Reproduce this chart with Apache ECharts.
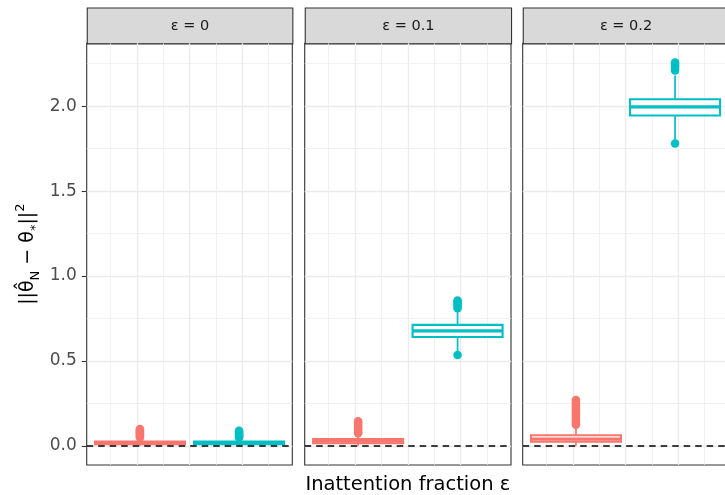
<!DOCTYPE html>
<html><head><meta charset="utf-8">
<script src="https://cdn.jsdelivr.net/npm/echarts@6/dist/echarts.min.js"></script>
<style>html,body{margin:0;padding:0;background:#fff}#c{width:725px;height:495px}</style>
</head><body><div id="c"></div>
<script>
// ---- data ----
const panelLabels = ['ε = 0', 'ε = 0.1', 'ε = 0.2'];
const groupColors = ['#F8766D', '#00BFC4'];
const boxX = [1.06, 2.94];           // x position of the two boxes inside each panel
// [min, Q1, median, Q3, max] per panel
const redBox  = [[0.002, 0.010, 0.018, 0.026, 0.045],
                 [0.002, 0.016, 0.028, 0.041, 0.065],
                 [0.002, 0.025, 0.040, 0.063, 0.115]];
const cyanBox = [[0.002, 0.010, 0.018, 0.026, 0.045],
                 [0.550, 0.641, 0.678, 0.713, 0.800],
                 [1.800, 1.945, 1.996, 2.041, 2.180]];
const redOut  = [[0.05, 0.055, 0.06, 0.065, 0.07, 0.075, 0.08, 0.085, 0.09, 0.095, 0.10],
                 [0.075, 0.08, 0.09, 0.10, 0.11, 0.12, 0.13, 0.14, 0.145],
                 [0.125, 0.13, 0.14, 0.15, 0.16, 0.17, 0.18, 0.19, 0.20, 0.21, 0.22, 0.23, 0.24, 0.25, 0.26, 0.27]];
const cyanOut = [[0.05, 0.055, 0.06, 0.065, 0.07, 0.075, 0.08, 0.085, 0.09],
                 [0.535, 0.81, 0.82, 0.83, 0.84, 0.85, 0.856],
                 [1.78, 2.21, 2.22, 2.23, 2.24, 2.25, 2.257]];
const yTicks = [0, 0.5, 1.0, 1.5, 2.0];
const yMinor = [0.25, 0.75, 1.25, 1.75, 2.25];
const xMajor = [1, 2, 3];
const xMinor = [0.5, 1.5, 2.5, 3.5];

// ---- layout ----
const panelLeft = [86.7, 304.7, 522.7];
const panelWidth = [205.6, 206.3, 205.6];
const plotTop = 43.3, plotHeight = 421.7, stripTop = 7.5;
const FONT = '"DejaVu Sans", Verdana, sans-serif';

const chart = echarts.init(document.getElementById('c'), null, {renderer: 'canvas'});

function renderBox(params, api) {
  const x = api.value(0);
  const lo = api.coord([x, api.value(1)]);
  const q1 = api.coord([x, api.value(2)]);
  const md = api.coord([x, api.value(3)]);
  const q3 = api.coord([x, api.value(4)]);
  const hi = api.coord([x, api.value(5)]);
  const color = api.visual('color');
  const hw = 45;
  return {type: 'group', children: [
    {type: 'line', shape: {x1: lo[0], y1: lo[1], x2: q1[0], y2: q1[1]}, style: {stroke: color, lineWidth: 1.7}},
    {type: 'line', shape: {x1: q3[0], y1: q3[1], x2: hi[0], y2: hi[1]}, style: {stroke: color, lineWidth: 1.7}},
    {type: 'rect', shape: {x: q3[0] - hw, y: q3[1], width: 2 * hw, height: q1[1] - q3[1]}, style: {fill: '#fff', stroke: color, lineWidth: 2.1}},
    {type: 'line', shape: {x1: md[0] - hw, y1: md[1], x2: md[0] + hw, y2: md[1]}, style: {stroke: color, lineWidth: 3.2}}
  ]};
}

const grids = [], xAxes = [], yAxes = [], series = [], graphics = [];
panelLabels.forEach((lab, i) => {
  grids.push({left: panelLeft[i], top: plotTop, width: panelWidth[i], height: plotHeight,
    show: true, borderColor: '#333', borderWidth: 1.1, backgroundColor: '#fff',
    containLabel: false, outerBoundsMode: 'none'});
  const xMaj = {gridIndex: i, type: 'value', min: 0.05, max: 3.95, position: 'bottom',
    axisLine: {show: false}, axisTick: {show: false, customValues: xMajor}, axisLabel: {show: false, customValues: xMajor},
    splitLine: {show: true, lineStyle: {color: '#ebebeb', width: 1.3}}};
  if (i === 1) {
    xMaj.name = 'Inattention fraction ε';
    xMaj.nameLocation = 'middle';
    xMaj.nameGap = 10;
    xMaj.nameTextStyle = {fontSize: 19.5, color: '#000', fontFamily: FONT, verticalAlign: 'top'};
  }
  xAxes.push(xMaj);
  xAxes.push({gridIndex: i, type: 'value', min: 0.05, max: 3.95, position: 'top',
    axisLine: {show: false}, axisTick: {show: false, customValues: xMinor}, axisLabel: {show: false, customValues: xMinor},
    splitLine: {show: true, lineStyle: {color: '#ebebeb', width: 0.7}}});
  const yMaj = {gridIndex: i, type: 'value', min: -0.112, max: 2.37, position: 'left',
    axisLine: {show: false},
    axisTick: {show: i === 0, customValues: yTicks, length: 5, lineStyle: {color: '#333', width: 1.1}},
    axisLabel: {show: i === 0, customValues: yTicks, formatter: v => v.toFixed(1), color: '#4d4d4d',
      fontSize: 17, fontFamily: FONT, margin: 10},
    splitLine: {show: true, lineStyle: {color: '#ebebeb', width: 1.3}}};
  if (i === 0) {
    yMaj.name = '{a|||}{a|θ\u0302}{s|N}{a| \u2212 θ}{s|*}{a|||}{p|2}';
    yMaj.nameLocation = 'middle';
    yMaj.nameRotate = 90;
    yMaj.nameGap = 45;
    yMaj.nameTextStyle = {rich: {
      a: {fontSize: 19, color: '#000', fontFamily: FONT, lineHeight: 28},
      s: {fontSize: 13, color: '#000', fontFamily: FONT, lineHeight: 13, verticalAlign: 'bottom'},
      p: {fontSize: 13, color: '#000', fontFamily: FONT, lineHeight: 13, verticalAlign: 'top'}
    }};
  }
  yAxes.push(yMaj);
  yAxes.push({gridIndex: i, type: 'value', min: -0.112, max: 2.37, position: 'right',
    axisLine: {show: false}, axisTick: {show: false, customValues: yMinor}, axisLabel: {show: false, customValues: yMinor},
    splitLine: {show: true, lineStyle: {color: '#ebebeb', width: 0.7}}});

  const boxes = [redBox[i], cyanBox[i]];
  const outs = [redOut[i], cyanOut[i]];
  [0, 1].forEach(g => {
    series.push({type: 'custom', xAxisIndex: 2 * i, yAxisIndex: 2 * i, renderItem: renderBox,
      itemStyle: {color: groupColors[g]}, z: 3, silent: true,
      data: [[boxX[g]].concat(boxes[g])]});
    const sc = {type: 'scatter', xAxisIndex: 2 * i, yAxisIndex: 2 * i, symbol: 'circle', symbolSize: 8.5,
      itemStyle: {color: groupColors[g], opacity: 1}, z: 4, silent: true,
      data: outs[g].map(v => [boxX[g], v])};
    if (g === 1) {
      sc.markLine = {symbol: 'none', silent: true, z: 5, label: {show: false},
        lineStyle: {color: '#000', type: [6.5, 5], width: 1.6}, data: [{yAxis: 0}]};
    }
    series.push(sc);
  });

  graphics.push({type: 'group', left: panelLeft[i], top: stripTop, children: [
    {type: 'rect', shape: {x: 0, y: 0, width: panelWidth[i], height: plotTop - stripTop},
      style: {fill: '#d9d9d9', stroke: '#333', lineWidth: 1.1}},
    {type: 'text', x: panelWidth[i] / 2, y: (plotTop - stripTop) / 2,
      style: {text: lab, fill: '#1a1a1a', font: '14.5px ' + FONT, textAlign: 'center', textVerticalAlign: 'middle'}}
  ]});
});

chart.setOption({
  animation: false,
  backgroundColor: '#fff',
  grid: grids, xAxis: xAxes, yAxis: yAxes, series: series, graphic: graphics
});
</script></body></html>
